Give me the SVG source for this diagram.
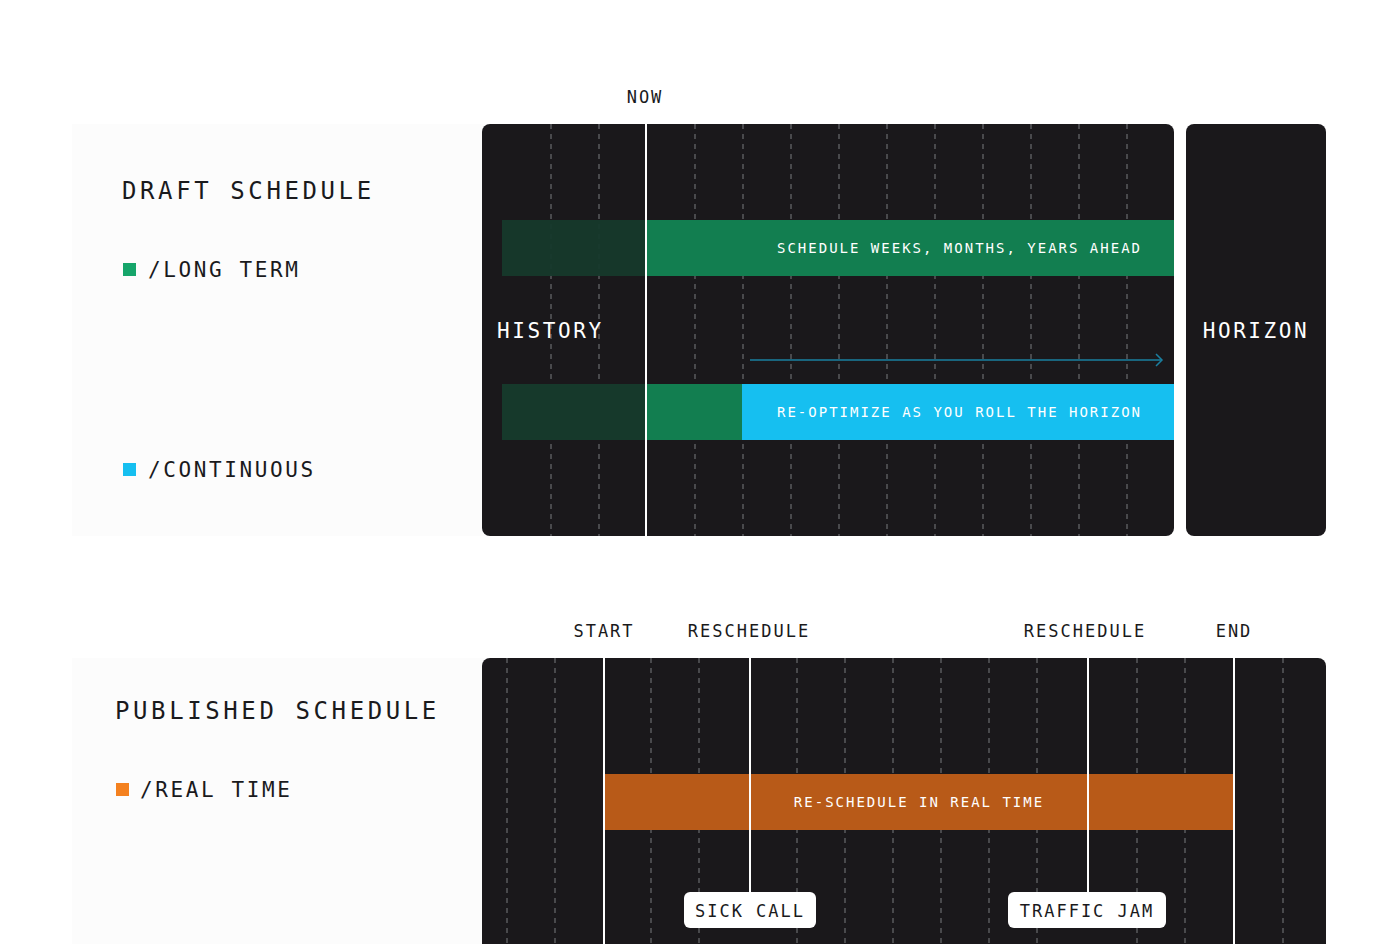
<svg xmlns="http://www.w3.org/2000/svg" width="1400" height="944" viewBox="0 0 1400 944">
<style>
text{font-family:"DejaVu Sans Mono","Liberation Mono",monospace;}
.h{font-size:24px;letter-spacing:3.6px;fill:#1a1a1c}
.l{font-size:21px;letter-spacing:2.6px;fill:#1a1a1c}
.t{font-size:17px;letter-spacing:2px;fill:#1a1a1c}
.w{font-size:21px;letter-spacing:2.6px;fill:#fff}
.b{font-size:14px;letter-spacing:2px;fill:#fff}
.d{stroke:#5a5a5e;stroke-width:1.5;stroke-dasharray:5 5}
.s{stroke:#fff;stroke-width:2}
</style>
<rect width="1400" height="944" fill="#fff"/>
<g id="draft-card"><rect x="72" y="124" width="420" height="412" fill="#fcfcfc"/>
<text class="h" x="122" y="199">DRAFT SCHEDULE</text>
<rect x="123" y="263" width="13" height="13" fill="#16a56a"/><text class="l" x="148" y="277">/LONG TERM</text>
<rect x="123" y="463" width="13" height="13" fill="#16bff0"/><text class="l" x="148" y="477">/CONTINUOUS</text></g>
<g id="draft-panel"><rect x="482" y="124" width="692" height="412" rx="8" fill="#1a181b"/>
<g class="d"><path d="M551 124V536M599 124V536M695 124V536M743 124V536M791 124V536M839 124V536M887 124V536M935 124V536M983 124V536M1031 124V536M1079 124V536M1127 124V536"/></g>
<rect x="502" y="220" width="144" height="56" fill="#16392b" opacity="0.95"/>
<rect x="646" y="220" width="528" height="56" fill="#127e50"/>
<text class="b" x="1142" y="253" text-anchor="end">SCHEDULE WEEKS, MONTHS, YEARS AHEAD</text>
<rect x="502" y="384" width="144" height="56" fill="#16392b"/>
<rect x="646" y="384" width="96" height="56" fill="#127e50"/>
<rect x="742" y="384" width="432" height="56" fill="#16bff0"/>
<text class="b" x="1142" y="417" text-anchor="end">RE-OPTIMIZE AS YOU ROLL THE HORIZON</text>
<text class="w" x="497" y="338">HISTORY</text>
<line class="s" x1="646" y1="124" x2="646" y2="536"/></g>
<g id="now"><text class="t" x="645" y="103" text-anchor="middle">NOW</text></g>
<g id="horizon"><rect x="1186" y="124" width="140" height="412" rx="8" fill="#1a181b"/><text class="w" x="1256" y="338" text-anchor="middle">HORIZON</text></g>
<g id="connectors"><line x1="750" y1="360" x2="1162" y2="360" stroke="#1a7fa0" stroke-width="1.5"/><path d="M1156 354L1162 360L1156 366" fill="none" stroke="#1a7fa0" stroke-width="1.5"/></g>
<g id="published-card"><rect x="72" y="658" width="420" height="286" fill="#fcfcfc"/>
<text class="h" x="115" y="719">PUBLISHED SCHEDULE</text>
<rect x="116" y="783" width="13" height="13" fill="#f4811f"/><text class="l" x="140" y="797">/REAL TIME</text></g>
<g id="published-panel"><rect x="482" y="658" width="844" height="300" rx="8" fill="#1a181b"/>
<g class="d"><path d="M507 658V944M555 658V944M651 658V944M699 658V944M797 658V944M845 658V944M893 658V944M941 658V944M989 658V944M1037 658V944M1137 658V944M1185 658V944M1283 658V944"/></g>
<rect x="604" y="774" width="630" height="56" fill="#b85a18"/>
<text class="b" x="919" y="807" text-anchor="middle">RE-SCHEDULE IN REAL TIME</text>
<path class="s" d="M604 658V944M750 658V892M1088 658V892M1234 658V944"/>
<rect x="684" y="892" width="132" height="36" rx="6" fill="#fff"/><text class="t" x="750" y="917" text-anchor="middle">SICK CALL</text>
<rect x="1008" y="892" width="158" height="36" rx="6" fill="#fff"/><text class="t" x="1087" y="917" text-anchor="middle">TRAFFIC JAM</text></g>
<g id="labels"><text class="t" x="604" y="637" text-anchor="middle">START</text><text class="t" x="749" y="637" text-anchor="middle">RESCHEDULE</text><text class="t" x="1085" y="637" text-anchor="middle">RESCHEDULE</text><text class="t" x="1234" y="637" text-anchor="middle">END</text></g>
</svg>
